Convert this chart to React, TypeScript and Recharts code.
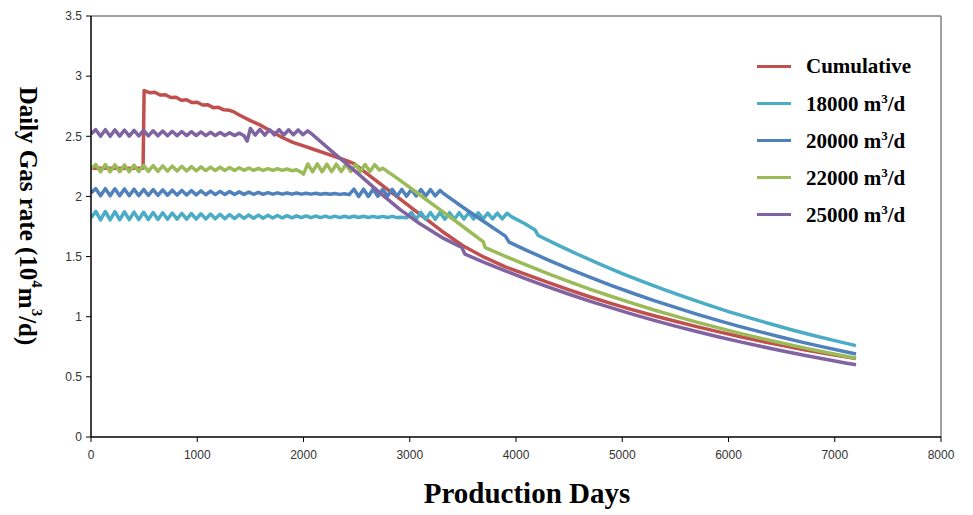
import { LineChart, Line, XAxis, YAxis, ReferenceLine, Label } from 'recharts';

// [production day, daily gas rate (10^4 m3/d)]
const cumulativeRate: [number, number][] = [
  [0, 2.235], [490, 2.235], [500, 2.88], [550, 2.862], [600, 2.866], [650, 2.843], [700, 2.846],
  [750, 2.822], [800, 2.825], [850, 2.8], [900, 2.804], [950, 2.78], [1000, 2.783], [1050, 2.76],
  [1100, 2.762], [1150, 2.738], [1200, 2.741], [1250, 2.72], [1300, 2.717], [1350, 2.7],
  [1400, 2.675], [1500, 2.63], [1600, 2.59], [1700, 2.54], [1800, 2.49], [1900, 2.45], [2000, 2.42],
  [2100, 2.39], [2200, 2.36], [2300, 2.33], [2400, 2.3], [2480, 2.27], [2600, 2.188], [2720, 2.107],
  [2910, 1.978], [3100, 1.849], [3300, 1.713], [3500, 1.59], [3700, 1.495], [3900, 1.415],
  [4100, 1.35], [4300, 1.285], [4500, 1.223], [4700, 1.164], [4900, 1.109], [5100, 1.057],
  [5300, 1.008], [5500, 0.962], [5700, 0.918], [5900, 0.876], [6100, 0.836], [6300, 0.798],
  [6500, 0.762], [6700, 0.728], [6900, 0.696], [7100, 0.666], [7200, 0.652],
];

const rate18000: [number, number][] = [
  [0, 1.82], [45, 1.875], [90, 1.805], [135, 1.875], [180, 1.805], [225, 1.873], [270, 1.806],
  [315, 1.872], [360, 1.807], [405, 1.87], [450, 1.807], [495, 1.868], [540, 1.808], [585, 1.866],
  [630, 1.809], [675, 1.864], [720, 1.81], [765, 1.862], [810, 1.811], [855, 1.86], [900, 1.812],
  [945, 1.858], [990, 1.812], [1035, 1.856], [1080, 1.813], [1125, 1.854], [1170, 1.814],
  [1215, 1.852], [1260, 1.815], [1305, 1.85], [1350, 1.816], [1395, 1.848], [1440, 1.817],
  [1485, 1.846], [1530, 1.818], [1575, 1.845], [1620, 1.819], [1665, 1.843], [1710, 1.82],
  [1755, 1.842], [1800, 1.821], [1845, 1.84], [1890, 1.822], [1935, 1.839], [1980, 1.823],
  [2025, 1.838], [2070, 1.823], [2115, 1.837], [2160, 1.824], [2205, 1.836], [2250, 1.824],
  [2295, 1.836], [2340, 1.824], [2385, 1.835], [2430, 1.825], [2475, 1.835], [2520, 1.825],
  [2565, 1.835], [2610, 1.825], [2655, 1.834], [2700, 1.825], [2745, 1.834], [2790, 1.825],
  [2835, 1.834], [2880, 1.824], [2925, 1.826], [2970, 1.823], [3015, 1.868], [3060, 1.81],
  [3105, 1.868], [3150, 1.81], [3195, 1.866], [3240, 1.81], [3285, 1.866], [3330, 1.811],
  [3375, 1.865], [3420, 1.811], [3465, 1.865], [3510, 1.812], [3555, 1.864], [3600, 1.812],
  [3645, 1.863], [3690, 1.813], [3735, 1.862], [3780, 1.813], [3825, 1.861], [3870, 1.814],
  [3915, 1.86], [3960, 1.83], [4080, 1.775], [4180, 1.72], [4210, 1.675], [4400, 1.593],
  [4600, 1.511], [4800, 1.433], [5000, 1.359], [5200, 1.289], [5400, 1.223], [5600, 1.16],
  [5800, 1.1], [6000, 1.043], [6200, 0.99], [6400, 0.939], [6600, 0.89], [6800, 0.844],
  [7000, 0.801], [7200, 0.76],
];

const rate20000: [number, number][] = [
  [0, 2.03], [45, 2.065], [90, 2.005], [135, 2.065], [180, 2.005], [225, 2.063], [270, 2.006],
  [315, 2.062], [360, 2.006], [405, 2.06], [450, 2.007], [495, 2.058], [540, 2.008], [585, 2.056],
  [630, 2.009], [675, 2.054], [720, 2.01], [765, 2.052], [810, 2.011], [855, 2.05], [900, 2.012],
  [945, 2.048], [990, 2.013], [1035, 2.046], [1080, 2.014], [1125, 2.044], [1170, 2.015],
  [1215, 2.042], [1260, 2.016], [1305, 2.04], [1350, 2.016], [1395, 2.038], [1440, 2.017],
  [1485, 2.036], [1530, 2.018], [1575, 2.034], [1620, 2.018], [1665, 2.032], [1710, 2.019],
  [1755, 2.03], [1800, 2.019], [1845, 2.029], [1890, 2.019], [1935, 2.028], [1980, 2.019],
  [2025, 2.027], [2070, 2.019], [2115, 2.026], [2160, 2.018], [2205, 2.025], [2250, 2.018],
  [2295, 2.024], [2340, 2.017], [2385, 2.022], [2430, 2.015], [2475, 2.06], [2520, 2.0],
  [2565, 2.06], [2610, 2.0], [2655, 2.06], [2700, 2.001], [2745, 2.059], [2790, 2.001],
  [2835, 2.059], [2880, 2.002], [2925, 2.058], [2970, 2.002], [3015, 2.058], [3060, 2.003],
  [3105, 2.057], [3150, 2.003], [3195, 2.057], [3240, 2.004], [3285, 2.05], [3310, 2.03],
  [3500, 1.91], [3700, 1.79], [3900, 1.67], [3935, 1.62], [4100, 1.552], [4300, 1.473],
  [4500, 1.398], [4700, 1.327], [4900, 1.259], [5100, 1.195], [5300, 1.134], [5500, 1.077],
  [5700, 1.022], [5900, 0.97], [6100, 0.92], [6300, 0.874], [6500, 0.829], [6700, 0.787],
  [6900, 0.747], [7100, 0.709], [7200, 0.69],
];

const rate22000: [number, number][] = [
  [0, 2.23], [45, 2.265], [90, 2.205], [135, 2.265], [180, 2.205], [225, 2.263], [270, 2.206],
  [315, 2.262], [360, 2.206], [405, 2.26], [450, 2.207], [495, 2.258], [540, 2.208], [585, 2.256],
  [630, 2.209], [675, 2.254], [720, 2.21], [765, 2.252], [810, 2.211], [855, 2.25], [900, 2.212],
  [945, 2.248], [990, 2.213], [1035, 2.246], [1080, 2.214], [1125, 2.244], [1170, 2.215],
  [1215, 2.242], [1260, 2.216], [1305, 2.24], [1350, 2.216], [1395, 2.238], [1440, 2.217],
  [1485, 2.236], [1530, 2.217], [1575, 2.234], [1620, 2.217], [1665, 2.232], [1710, 2.217],
  [1755, 2.23], [1800, 2.216], [1845, 2.228], [1890, 2.214], [1935, 2.222], [1980, 2.2],
  [2000, 2.185], [2040, 2.27], [2085, 2.205], [2130, 2.27], [2175, 2.205], [2220, 2.268],
  [2265, 2.206], [2310, 2.268], [2355, 2.206], [2400, 2.267], [2445, 2.207], [2490, 2.266],
  [2535, 2.207], [2580, 2.265], [2625, 2.208], [2670, 2.264], [2715, 2.22], [2745, 2.235],
  [2900, 2.14], [3100, 2.01], [3300, 1.88], [3500, 1.75], [3690, 1.625], [3710, 1.575],
  [3900, 1.502], [4100, 1.428], [4300, 1.358], [4500, 1.292], [4700, 1.228], [4900, 1.168],
  [5100, 1.111], [5300, 1.056], [5500, 1.005], [5700, 0.955], [5900, 0.909], [6100, 0.864],
  [6300, 0.822], [6500, 0.782], [6700, 0.743], [6900, 0.707], [7100, 0.672], [7200, 0.655],
];

const rate25000: [number, number][] = [
  [0, 2.52], [45, 2.555], [90, 2.5], [135, 2.555], [180, 2.5], [225, 2.553], [270, 2.501],
  [315, 2.552], [360, 2.502], [405, 2.55], [450, 2.503], [495, 2.548], [540, 2.503], [585, 2.546],
  [630, 2.504], [675, 2.544], [720, 2.505], [765, 2.542], [810, 2.505], [855, 2.54], [900, 2.506],
  [945, 2.538], [990, 2.506], [1035, 2.536], [1080, 2.506], [1125, 2.534], [1170, 2.506],
  [1215, 2.532], [1260, 2.506], [1305, 2.53], [1350, 2.506], [1395, 2.526], [1440, 2.505],
  [1470, 2.46], [1500, 2.565], [1545, 2.51], [1590, 2.558], [1635, 2.51], [1680, 2.556],
  [1725, 2.511], [1770, 2.555], [1815, 2.511], [1860, 2.554], [1905, 2.512], [1950, 2.553],
  [1995, 2.513], [2040, 2.545], [2070, 2.525], [2300, 2.35], [2500, 2.2], [2720, 2.03],
  [2910, 1.89], [3100, 1.77], [3300, 1.66], [3490, 1.575], [3520, 1.52], [3700, 1.452],
  [3900, 1.381], [4100, 1.313], [4300, 1.248], [4500, 1.187], [4700, 1.128], [4900, 1.073],
  [5100, 1.02], [5300, 0.97], [5500, 0.922], [5700, 0.877], [5900, 0.834], [6100, 0.793],
  [6300, 0.754], [6500, 0.717], [6700, 0.682], [6900, 0.648], [7100, 0.616], [7200, 0.6],
];

const xTicks = [0, 1000, 2000, 3000, 4000, 5000, 6000, 7000, 8000];
const yTicks = [0, 0.5, 1, 1.5, 2, 2.5, 3, 3.5];

const series = [
  { key: 'cum', name: 'Cumulative', color: '#C0504D', rows: cumulativeRate },
  { key: 'r18', name: '18000', color: '#4BACC6', rows: rate18000 },
  { key: 'r20', name: '20000', color: '#4F81BD', rows: rate20000 },
  { key: 'r22', name: '22000', color: '#9BBB59', rows: rate22000 },
  { key: 'r25', name: '25000', color: '#8064A2', rows: rate25000 },
];

const serif = '"Liberation Serif", "Times New Roman", serif';
const tickFont = { fontSize: 12, fill: '#333', fontFamily: '"Liberation Sans", Arial, sans-serif' };

// legend sits inside the plot area, so it is drawn as an overlay and takes no room from the chart
function LegendBox() {
  return (
    <div
      style={{
        position: 'absolute',
        left: 757,
        top: 48,
        fontFamily: serif,
        fontWeight: 'bold',
        fontSize: 21,
        color: '#000',
        lineHeight: 1,
      }}
    >
      {series.map(s => (
        <div key={s.key} style={{ display: 'flex', alignItems: 'center', height: 37 }}>
          <span style={{ display: 'inline-block', width: 34, height: 3, background: s.color, marginRight: 15 }} />
          {s.key === 'cum' ? (
            <span>{s.name}</span>
          ) : (
            <span>
              {s.name} m<sup style={{ fontSize: 13, verticalAlign: 8 }}>3</sup>/d
            </span>
          )}
        </div>
      ))}
    </div>
  );
}

export default function App() {
  return (
    <div style={{ position: 'absolute', left: 0, top: 0, width: 973, height: 515, background: '#fff' }}>
      <LineChart width={973} height={515} margin={{ top: 16, right: 32, bottom: 48, left: 31 }}>
        <XAxis
          type="number"
          dataKey="day"
          domain={[0, 8000]}
          ticks={xTicks}
          allowDataOverflow
          tick={tickFont}
          tickSize={5}
          tickMargin={8}
          axisLine={{ stroke: '#000', strokeWidth: 1.5 }}
          tickLine={{ stroke: '#000' }}
          height={30}
        >
          <Label
            content={() => (
              <text x={527} y={503} textAnchor="middle" fontFamily={serif} fontWeight="bold" fontSize={29} fill="#000">
                Production Days
              </text>
            )}
          />
        </XAxis>
        <YAxis
          type="number"
          domain={[0, 3.5]}
          ticks={yTicks}
          tick={tickFont}
          tickSize={5}
          tickMargin={4}
          width={60}
          axisLine={{ stroke: '#000', strokeWidth: 1.5 }}
          tickLine={{ stroke: '#000' }}
        >
          <Label
            content={() => (
              <text
                x={28}
                y={216}
                transform="rotate(90, 28, 216)"
                textAnchor="middle"
                dominantBaseline="central"
                fontFamily={serif}
                fontWeight="bold"
                fontSize={25}
                fill="#000"
              >
                Daily Gas rate (10
                <tspan dy={-9} fontSize={15}>4</tspan>
                <tspan dy={9}>m</tspan>
                <tspan dy={-9} fontSize={15}>3</tspan>
                <tspan dy={9}>/d)</tspan>
              </text>
            )}
          />
        </YAxis>
        <ReferenceLine y={3.5} stroke="#808080" strokeWidth={1.5} />
        <ReferenceLine x={8000} stroke="#808080" strokeWidth={1.5} />
        {series.map(s => (
          <Line
            key={s.key}
            data={s.rows.map(([day, rate]) => ({ day, rate }))}
            dataKey="rate"
            name={s.name}
            type="linear"
            stroke={s.color}
            strokeWidth={3.5}
            strokeLinejoin="round"
            dot={false}
            activeDot={false}
            isAnimationActive={false}
          />
        ))}
      </LineChart>
      <LegendBox />
    </div>
  );
}
